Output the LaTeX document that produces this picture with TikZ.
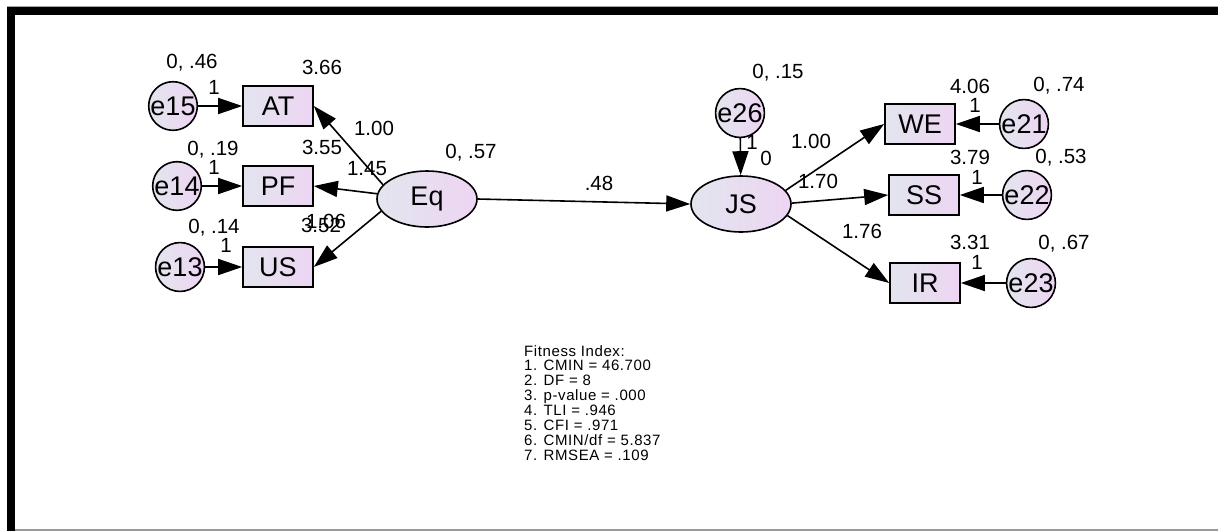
\documentclass[tikz,border=0pt]{standalone}
\usepackage{fontspec}
\setmainfont{Liberation Sans}
\usetikzlibrary{shapes.geometric,arrows.meta}
\definecolor{fillA}{HTML}{E2E5EE}
\definecolor{fillB}{HTML}{EED5F3}
\tikzset{
  obs/.style={draw, line width=1.6pt, rectangle, minimum width=70pt, minimum height=40pt, inner sep=0pt, left color=fillA, right color=fillB, font=\fontsize{27}{30}\selectfont},
  err/.style={draw, line width=1.6pt, circle, minimum size=40pt, inner sep=0pt, left color=fillA, right color=fillB, font=\fontsize{27}{30}\selectfont},
  lat/.style={draw, line width=1.6pt, ellipse, minimum width=100pt, minimum height=56pt, inner sep=0pt, left color=fillA, right color=fillB, font=\fontsize{27}{30}\selectfont},
  arr/.style={line width=1.6pt, -{Triangle[length=24pt,width=16pt]}},
  lab/.style={font=\fontsize{20.5}{23}\selectfont, inner sep=0pt},
}
\begin{document}
\begin{tikzpicture}[x=1pt,y=-1pt]
\useasboundingbox (0,0) rectangle (1218,531);
\fill[white] (0,0) rectangle (1218,531);
% frame
\draw[gray!70, line width=1pt] (7,6) -- (1218,6);
\fill[black] (7,6.5) rectangle (1218,14.5);
\fill[black] (7,6.5) rectangle (15,531);
\draw[gray!80, line width=1.5pt] (15,530) -- (1218,530);

% observed variables
\node[obs] (AT) at (278,106) {AT};
\node[obs] (PF) at (278,186) {PF};
\node[obs] (US) at (278,267) {US};
\node[obs] (WE) at (920,124) {WE};
\node[obs] (SS) at (924,195) {SS};
\node[obs] (IR) at (925,283) {IR};
% errors
\node[err] (e15) at (173,106) {e15};
\node[err] (e14) at (177,186) {e14};
\node[err] (e13) at (180,267) {e13};
\node[err] (e21) at (1024,124) {e21};
\node[err] (e22) at (1027,195) {e22};
\node[err] (e23) at (1031,283) {e23};
\node[err] (e26) at (740,113) {e26};
% latent
\node[lat] (Eq) at (427,199) {Eq};
\node[lat] (JS) at (741,204) {JS};

% arrows
\draw[arr] (e15) -- (AT);
\draw[arr] (e14) -- (PF);
\draw[arr] (e13) -- (US);
\draw[arr] (e21) -- (WE);
\draw[arr] (e22) -- (SS);
\draw[arr] (e23) -- (IR);
\draw[arr] (e26) -- (JS);
\draw[arr] (Eq.162) -- (AT.east);
\draw[arr] (Eq.174) -- (PF.east);
\draw[arr] (Eq.195) -- (US.east);
\draw[arr] (Eq.east) -- (JS.west);
\draw[arr] (JS.17) -- (WE.west);
\draw[arr] (JS.1) -- (SS.west);
\draw[arr] (JS.-14) -- (IR.west);

% labels
\node[lab] (l1) at (192,63) {0, .46};
\node[lab] (l2) at (214,87) {1};
\node[lab] (l3) at (322,67) {3.66};
\node[lab] (l4) at (374,128) {1.00};
\node[lab] (l5) at (213,150) {0, .19};
\node[lab] (l6) at (214,167) {1};
\node[lab] (l7) at (322,147) {3.55};
\node[lab] (l8) at (367,169) {1.45};
\node[lab] (l9) at (326,221) {1.06};
\node[lab] (l10) at (321,225) {3.52};
\node[lab] (l11) at (214,228) {0, .14};
\node[lab] (l12) at (226,245) {1};
\node[lab] (l13) at (471,153) {0, .57};
\node[lab] (l14) at (599,183) {.48};
\node[lab] (l15) at (778,73) {0, .15};
\node[lab] (l16) at (752,142) {1};
\node[lab] (l17) at (766,158) {0};
\node[lab] (l18) at (811,141) {1.00};
\node[lab] (l19) at (818,181) {1.70};
\node[lab] (l20) at (862,231) {1.76};
\node[lab] (l21) at (970,86) {4.06};
\node[lab] (l22) at (975,105) {1};
\node[lab] (l23) at (1059,86) {0, .74};
\node[lab] (l24) at (970,157) {3.79};
\node[lab] (l25) at (977,177) {1};
\node[lab] (l26) at (1061,158) {0, .53};
\node[lab] (l27) at (970,242) {3.31};
\node[lab] (l28) at (977,262) {1};
\node[lab] (l29) at (1064,244) {0, .67};

% fitness
\node[anchor=north west, align=left, inner sep=0pt, font=\fontsize{15}{14.9}\selectfont\addfontfeatures{LetterSpace=4}] (fit) at (524,345) {Fitness Index:\\1. CMIN = 46.700\\2. DF = 8\\3. p-value = .000\\4. TLI = .946\\5. CFI = .971\\6. CMIN/df = 5.837\\7. RMSEA = .109};
\end{tikzpicture}
\end{document}
